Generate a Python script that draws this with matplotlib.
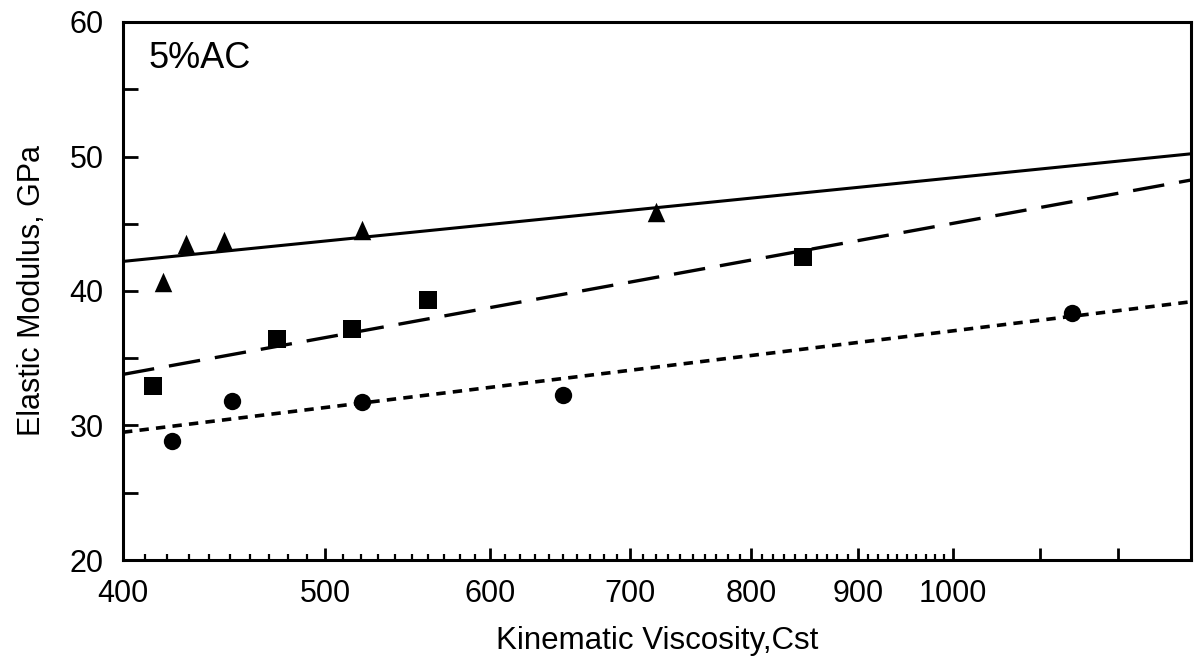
import numpy as np
import matplotlib
matplotlib.use("Agg")
import matplotlib.pyplot as plt
from matplotlib.ticker import FixedLocator, FixedFormatter, NullFormatter

plt.rcParams['font.family'] = ['Liberation Sans', 'DejaVu Sans']

# Measured data (kinematic viscosity in cSt, elastic modulus in GPa)
tri_visc = [418, 429, 447, 521, 720]
tri_mod = [40.7, 43.5, 43.7, 44.5, 45.9]

sq_visc = [413.5, 474, 515, 560, 847]
sq_mod = [32.9, 36.4, 37.2, 39.3, 42.5]

circ_visc = [422, 451, 521, 650, 1140]
circ_mod = [28.85, 31.8, 31.75, 32.3, 38.4]

# Regression lines (end points over the plotted range)
fit_visc = [400, 1300]
fit_tri = [42.2, 50.2]
fit_sq = [33.8, 48.25]
fit_circ = [29.5, 39.2]

x_major = [400, 500, 600, 700, 800, 900, 1000, 1100, 1200]
x_labels = ['400', '500', '600', '700', '800', '900', '1000', '', '']
y_major = [20, 30, 40, 50, 60]
y_minor = [25, 35, 45, 55]

fig = plt.figure(figsize=(12.03, 6.60), dpi=100)
ax = fig.add_axes([123 / 1203, 1 - 560 / 660, (1191 - 123) / 1203, (560 - 22) / 660])

ax.set_xscale('log')
ax.set_xlim(400, 1300)
ax.set_ylim(20, 60)

ax.plot(fit_visc, fit_tri, color='black', lw=2.2, solid_capstyle='butt')
ax.plot(fit_visc, fit_sq, color='black', lw=2.4, ls=(0, (9.5, 4.5)))
ax.plot(fit_visc, fit_circ, color='black', lw=2.6, ls=(0, (2.6, 2.0)))

tri_marker = [(0, 1), (-0.9, -1), (0.9, -1), (0, 1)]
ax.plot(tri_visc, tri_mod, ls='none', marker=tri_marker, ms=14, color='black', mew=0)
ax.plot(sq_visc, sq_mod, ls='none', marker='s', ms=12.5, color='black', mew=0)
ax.plot(circ_visc, circ_mod, ls='none', marker='o', ms=12.5, color='black', mew=0)

# Ticks
ax.xaxis.set_major_locator(FixedLocator(x_major))
ax.xaxis.set_major_formatter(FixedFormatter(x_labels))
minor_x = [v for v in range(410, 1000, 10) if v % 100 != 0]
ax.xaxis.set_minor_locator(FixedLocator(minor_x))
ax.xaxis.set_minor_formatter(NullFormatter())
ax.yaxis.set_major_locator(FixedLocator(y_major))
ax.yaxis.set_minor_locator(FixedLocator(y_minor))

ax.tick_params(axis='x', which='major', direction='in', length=9, width=2, pad=14,
               labelsize=22, top=False)
ax.tick_params(axis='x', which='minor', direction='in', length=4, width=1.6, top=False)
ax.tick_params(axis='y', which='both', direction='in', length=11, width=2, pad=14,
               labelsize=22, right=False)

for s in ax.spines.values():
    s.set_linewidth(2.2)

ax.set_xlabel('Kinematic Viscosity,Cst', fontsize=22.5, labelpad=12)
ax.set_ylabel('Elastic Modulus, GPa', fontsize=22, labelpad=16)

ax.text(0.024, 0.965, '5%AC', transform=ax.transAxes, fontsize=26,
        ha='left', va='top')

fig.savefig('out.png', dpi=100)
